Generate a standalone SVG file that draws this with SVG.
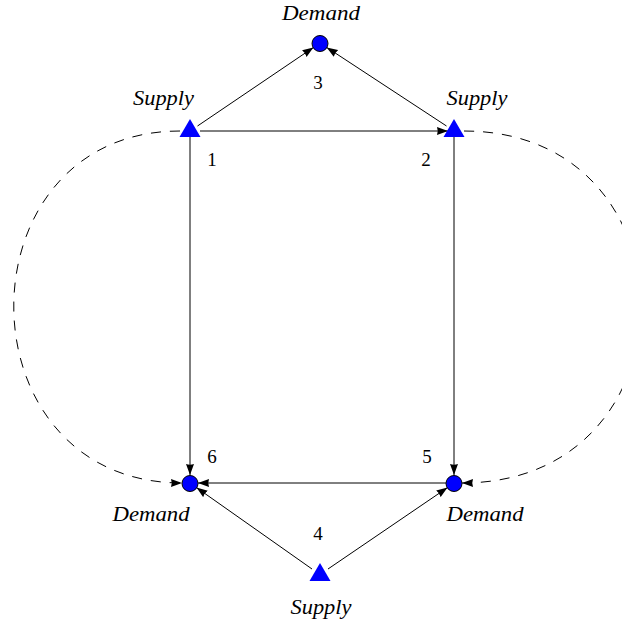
<svg xmlns="http://www.w3.org/2000/svg" width="622" height="624" viewBox="0 0 622 624">
<defs>
<style>
.lbl{font-family:'Liberation Serif','Times New Roman','DejaVu Serif',serif;font-style:italic;font-size:20px;fill:#000;text-anchor:middle}
.num{font-family:'Liberation Serif','Times New Roman','DejaVu Serif',serif;font-size:19px;fill:#000;text-anchor:middle}
.e{stroke:#000;stroke-width:1;fill:none;marker-end:url(#ah)}
.d{stroke-dasharray:10 9}
.tri{fill:#0000ff}
.cir{fill:#0000ff;stroke:#000;stroke-width:1}
</style>
<marker id="ah" markerUnits="userSpaceOnUse" markerWidth="11" markerHeight="9" viewBox="0 0 11 9" refX="11" refY="4.5" orient="auto">
<path d="M0,0.5 Q1.5,4.5 0,8.5 L11,4.5 Z" fill="#000"/>
</marker>
</defs>
<rect width="622" height="624" fill="#fff"/>
<g id="connectors">
<line class="e" x1="197.5" y1="126" x2="313.4" y2="47.5"/>
<line class="e" x1="446.5" y1="126" x2="326.7" y2="47.4"/>
<line class="e" x1="200" y1="131" x2="448" y2="131"/>
<line class="e" x1="190" y1="137" x2="190" y2="475"/>
<line class="e" x1="454" y1="137" x2="454" y2="475"/>
<line class="e" x1="446" y1="483" x2="198" y2="483"/>
<line class="e" x1="312" y1="569" x2="196.5" y2="487.6"/>
<line class="e" x1="328" y1="569" x2="447.5" y2="487.6"/>
<path class="e d" d="M180,131 C-42,131 -42,483 182,483"/>
<path class="e d" d="M464,131 C700,131 700,483 462,483"/>
</g>
<g id="n1">
<polygon class="tri" points="190,119 200.5,137 179.5,137"/>
<text class="lbl" x="163.5" y="105" textLength="61" lengthAdjust="spacingAndGlyphs">Supply</text>
<text class="num" x="212" y="166">1</text>
</g>
<g id="n2">
<polygon class="tri" points="454,119 464.5,137 443.5,137"/>
<text class="lbl" x="477" y="105" textLength="61" lengthAdjust="spacingAndGlyphs">Supply</text>
<text class="num" x="426" y="166">2</text>
</g>
<g id="n3">
<circle class="cir" cx="320" cy="43.5" r="8"/>
<text class="lbl" x="321" y="20" textLength="78" lengthAdjust="spacingAndGlyphs">Demand</text>
<text class="num" x="318" y="89">3</text>
</g>
<g id="n4">
<polygon class="tri" points="320,563 330.5,581 309.5,581"/>
<text class="lbl" x="321" y="614" textLength="61" lengthAdjust="spacingAndGlyphs">Supply</text>
<text class="num" x="318" y="540">4</text>
</g>
<g id="n5">
<circle class="cir" cx="454" cy="483.5" r="8"/>
<text class="lbl" x="485" y="521" textLength="77" lengthAdjust="spacingAndGlyphs">Demand</text>
<text class="num" x="427" y="463">5</text>
</g>
<g id="n6">
<circle class="cir" cx="190" cy="483.5" r="8"/>
<text class="lbl" x="151" y="521" textLength="77" lengthAdjust="spacingAndGlyphs">Demand</text>
<text class="num" x="212" y="463">6</text>
</g>
</svg>
